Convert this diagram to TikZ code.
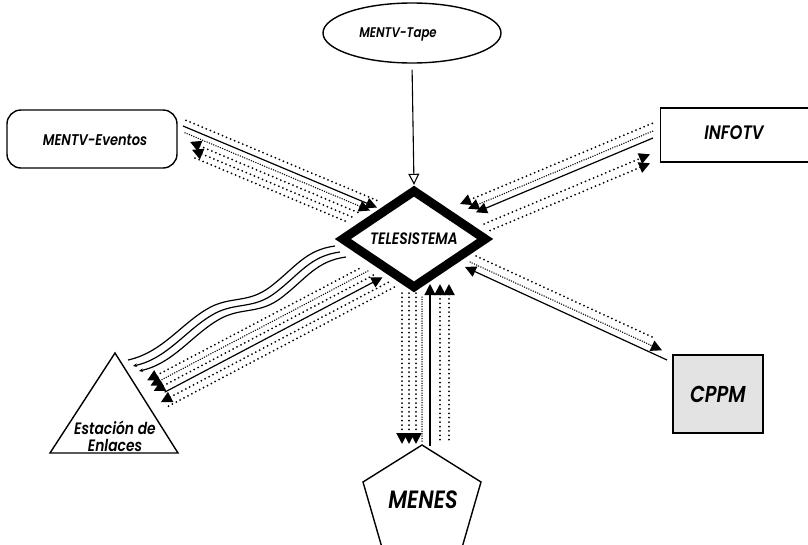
\documentclass[tikz,border=0pt]{standalone}
\usepackage{fontspec}
\setmainfont{Poppins}[ItalicFont={Poppins SemiBold Italic}, ItalicFeatures={FakeStretch=0.84}]
\usetikzlibrary{arrows.meta,shapes.geometric}
\tikzset{
  lnDot/.style={line width=2pt, dash pattern=on 0pt off 4.4pt, line cap=round},
  lnDen/.style={line width=1.5pt, dash pattern=on 0pt off 2.4pt, line cap=round},
  lnSol/.style={line width=1.2pt},
  tipE/.style={-{Triangle[length=11pt,width=11pt]}},
  tipS/.style={{Triangle[length=11pt,width=11pt]}-},
  lnDotS/.style={lnDot,tipS}, lnDotE/.style={lnDot,tipE},
  lnDenS/.style={lnDen,tipS}, lnDenE/.style={lnDen,tipE},
  lnSolS/.style={lnSol,tipS}, lnSolE/.style={lnSol,tipE},
  wave/.style={line width=1.2pt},
  box/.style={draw, line width=1.4pt, inner sep=2pt},
  lbl/.style={font=\itshape}
}
\begin{document}
\begin{tikzpicture}[x=1pt,y=-1pt]
\useasboundingbox (0,0) rectangle (808,544);
\clip (0,0) rectangle (808,544);

% nodes
\node[box, ellipse, minimum width=178pt, minimum height=60pt] (tape) at (412,33) {};
\node[font=\itshape\fontsize{14}{16}\selectfont] (tapet) at (398,34) {MENTV-Tape};
\node[box, rounded corners=14pt, minimum width=170pt, minimum height=58pt] (ev) at (92,139) {};
\node[font=\itshape\fontsize{15.5}{18}\selectfont] (evt) at (95,140) {MENTV-Eventos};
\node[draw, diamond, line width=9pt, miter limit=10, minimum width=146pt, minimum height=86pt, inner sep=0pt, font=\itshape\fontsize{16.5}{19}\selectfont] (tele) at (414,239) {TELESISTEMA};
\node[box, minimum width=160pt, minimum height=54pt, anchor=west, fill=white] (info) at (660,135) {};
\node[lbl, font=\itshape\fontsize{19.5}{22}\selectfont] (infot) at (734,133) {INFOTV};
\node[box, minimum width=90pt, minimum height=78pt, fill=black!11, font=\itshape\fontsize{23}{26}\selectfont] (cppm) at (718,394) {CPPM};
\draw[line width=1.4pt] (115,353) -- (50,453) -- (178,453) -- cycle;
\node[align=center, font=\itshape\fontsize{16.5}{17}\selectfont] (est) at (115,436) {Estación de\\Enlaces};
\draw[line width=1.4pt] (422,445) -- (481,482) -- (459,558) -- (385,558) -- (363,482) -- cycle;
\node[font=\itshape\fontsize{25}{28}\selectfont] (menes) at (423,500) {MENES};

% Tape -> Telesistema
\draw[line width=1.1pt, shorten <=6pt, -{Triangle[open,length=11pt,width=11pt]}] (tape.south) -- (tele.north);

% bundles: name / style / start / end
\foreach \n/\sty/\ax/\ay/\bx/\by in {
  e1/lnDot/186/120.3/380/201.7,
  e2/lnSolE/183/126/377/207.5,
  e3/lnDenE/185/132.8/370/210.5,
  e4/lnDotS/190/141.9/361/213.8,
  e5/lnDotS/192/149.8/354.6/218.1,
  e6/lnDot/195/158/348/222.3,
  i1/lnDotS/460/204/653/123,
  i2/lnDenS/468/208.7/653/131,
  i3/lnSolS/476/212.3/653/138,
  i4/lnDotE/484/224/650/154.3,
  i5/lnDotE/490/230.5/650/163.3,
  c1/lnSolS/465/267/667/360,
  c2/lnDenE/470/262/662/350.3,
  c3/lnDot/476/256/655/338.3,
  m1/lnDotE/402/293/402/444,
  m2/lnDotE/409/293/409/444,
  m3/lnDotE/416/293/416/444,
  m4/lnDen/422/297/422/443,
  m5/lnSolS/430/284/430/446,
  m6/lnDotS/440/284/440/443,
  m7/lnDotS/449/284/449/443,
  s1/lnDotS/147.2/380.3/362.8/266.7,
  s2/lnDenS/150.5/385.6/369.1/270.4,
  s3/lnDotS/153.8/390.8/375.3/274.1,
  s4/lnSolE/164.6/392.2/382.5/277.3,
  s5/lnDotS/160.9/402.1/389.6/281.6,
  s6/lnDot/168.5/406.1/394.7/286.9}{
  \coordinate (\n a) at (\ax,\ay);
  \coordinate (\n b) at (\bx,\by);
  \draw[\sty] (\n a) -- (\n b);
}

% wavy lines Estacion -> Telesistema
\coordinate (w1a) at (128,360); \coordinate (w1b) at (335,246);
\coordinate (w2a) at (133,366); \coordinate (w2b) at (340,252);
\coordinate (w3a) at (139,371); \coordinate (w3b) at (346,257);
\draw[wave] (w1a) .. controls (165,352) and (185,318) .. (215,305)
  .. controls (235,297) and (250,302) .. (270,287)
  .. controls (295,268) and (305,250) .. (w1b);
\draw[wave, {Stealth[length=4pt,width=3.5pt]}-] (w2a) .. controls (170,358) and (190,324) .. (220,311)
  .. controls (240,303) and (255,308) .. (275,293)
  .. controls (300,274) and (310,256) .. (w2b);
\draw[wave, {Stealth[length=4pt,width=3.5pt]}-] (w3a) .. controls (176,363) and (196,329) .. (226,316)
  .. controls (246,308) and (261,313) .. (281,298)
  .. controls (306,279) and (316,261) .. (w3b);
\end{tikzpicture}
\end{document}
